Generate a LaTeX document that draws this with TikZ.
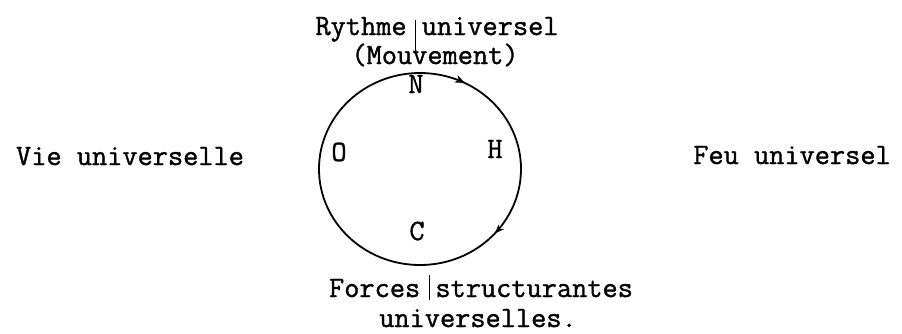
\documentclass[tikz,border=0pt]{standalone}
\usepackage{fontspec}
\newfontfamily\typefont[FakeBold=1.2]{Latin Modern Mono}
\usetikzlibrary{arrows.meta, decorations.markings}

\begin{document}
\begin{tikzpicture}[x=1pt, y=-1pt,
		lbl/.style={font=\fontsize{29.5}{31}\typefont, inner sep=0pt, anchor=base}]
			\useasboundingbox (0,0) rectangle (902,333);
			
			% Draw the cycle
			\draw[line width=1.8pt,
				decoration={markings,
					mark=at position 0.075 with {\arrow{Stealth[length=10pt,width=8pt]}},
					mark=at position 0.365 with {\arrow{Stealth[length=9pt,width=7pt]}}},
				postaction={decorate}]
				(420,73) arc[start angle=-90, end angle=270, x radius=101, y radius=96];
			
			% Poles
			\node[lbl] (n) at (416,93) {N};
			\node[lbl] (o) at (339,161) {O};
			\node[lbl] (h) at (495,158) {H};
			\node[lbl] (c) at (417,240) {C};
			
			% Labels
			\node[lbl] (rythme) at (437,35) {Rythme universel};
			\node[lbl] (mouv) at (435,64) {(Mouvement)};
			\node[lbl] (forces) at (481,297) {Forces structurantes};
			\node[lbl] (univ) at (478,327) {universelles.};
			\node[lbl] (vie) at (130,165) {Vie universelle};
			\node[lbl] (feu) at (792,164) {Feu universel};
			
			% Small marks
			\draw[thin, -{Stealth[length=4pt]}] (415,20) -- (415,54);
			\draw[thin] (429,275) -- (429,300);
		\end{tikzpicture}
\end{document}
